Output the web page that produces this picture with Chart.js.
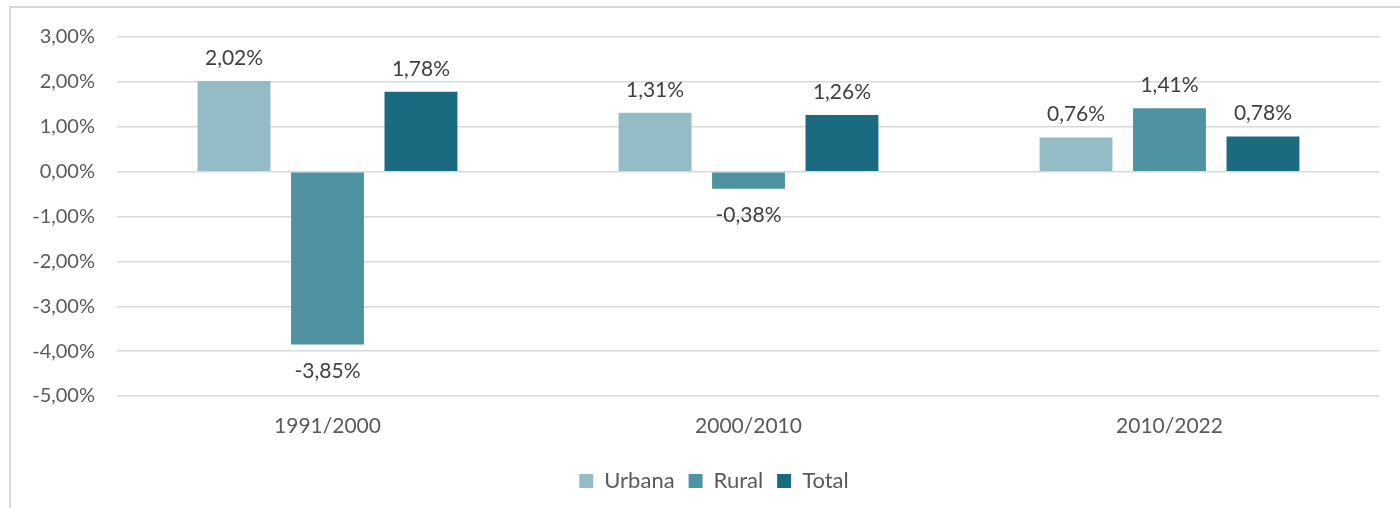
<!DOCTYPE html>
<html>
<head>
<meta charset="utf-8">
<script src="https://cdn.jsdelivr.net/npm/chart.js@4"></script>
<style>
  html, body { margin: 0; padding: 0; background: #fff; }
  #wrap { position: relative; width: 1400px; height: 508px; overflow: hidden; }
  #frame { position: absolute; left: 9px; top: 6px; width: 1420px; height: 540px; border: 2px solid #d9d9d9; box-sizing: border-box; }
  canvas { position: absolute; left: 0; top: 0; }
</style>
</head>
<body>
<div id="wrap">
  <div id="frame"></div>
  <canvas id="chart" width="1400" height="508"></canvas>
</div>
<script>
// periods on the x axis
const periods = ['1991/2000', '2000/2010', '2010/2022'];

// annual growth rate, in %
const urbana = [2.02, 1.31, 0.76];
const rural = [-3.85, -0.38, 1.41];
const total = [1.78, 1.26, 0.78];

const seriesNames = ['Urbana', 'Rural', 'Total'];
const yTicks = [3, 2, 1, 0, -1, -2, -3, -4, -5];

const COLORS = {
    urbana: '#93bcc6',
    rural: '#4f93a3',
    total: '#1a6a80',
    grid: '#d9d9d9',
    axisText: '#595959',
    labelText: '#404040'
};

const FONT = "Lato, 'Open Sans', sans-serif";
const fmt = v => v.toFixed(2).replace('.', ',') + '%';

// draws the value labels above / below each bar
const valueLabels = {
    id: 'valueLabels',
    afterDatasetsDraw(chart) {
        const ctx = chart.ctx;
        ctx.save();
        ctx.font = `21px ${FONT}`;
        ctx.fillStyle = COLORS.labelText;
        ctx.textAlign = 'center';
        ctx.textBaseline = 'middle';
        chart.data.datasets.forEach((ds, i) => {
            chart.getDatasetMeta(i).data.forEach((bar, j) => {
                const v = ds.data[j];
                const y = v >= 0 ? bar.y - 23 : bar.y + 27;
                ctx.fillText(fmt(v), bar.x, y);
            });
        });
        ctx.restore();
    }
};

// the original legend is centred over the whole frame, not the canvas
const shiftLegend = {
    id: 'shiftLegend',
    afterLayout(chart) {
        if (!chart.legend) return;
        chart.legend.left = 48;
        chart.legend.right = 1380;
    }
};

const ctx = document.getElementById('chart').getContext('2d');

new Chart(ctx, {
    type: 'bar',
    data: {
        labels: periods,
        datasets: [
            { label: seriesNames[0], data: urbana, backgroundColor: COLORS.urbana },
            { label: seriesNames[1], data: rural, backgroundColor: COLORS.rural },
            { label: seriesNames[2], data: total, backgroundColor: COLORS.total }
        ]
    },
    options: {
        responsive: false,
        animation: false,
        devicePixelRatio: 1,
        layout: { padding: { left: 0, right: 20, top: 37, bottom: 6 } },
        datasets: {
            bar: { categoryPercentage: 0.666, barPercentage: 0.78 }
        },
        scales: {
            x: {
                grid: { display: false, drawTicks: false },
                border: { display: false },
                ticks: { color: COLORS.axisText, font: { family: FONT, size: 21 }, padding: 18 },
                afterFit: s => { s.height = 60; }
            },
            y: {
                min: -5,
                max: 3,
                afterBuildTicks: s => { s.ticks = yTicks.map(v => ({ value: v })); },
                grid: { color: COLORS.grid, lineWidth: 1.5, drawTicks: false },
                border: { display: false },
                ticks: {
                    color: COLORS.axisText,
                    font: { family: FONT, size: 20 },
                    padding: 22,
                    callback: v => fmt(v)
                },
                afterFit: s => { s.width = 117; }
            }
        },
        plugins: {
            legend: {
                position: 'bottom',
                labels: {
                    color: COLORS.axisText,
                    font: { family: FONT, size: 22 },
                    boxWidth: 14,
                    boxHeight: 14,
                    padding: 14
                }
            },
            tooltip: { enabled: false }
        }
    },
    plugins: [valueLabels, shiftLegend]
});
</script>
</body>
</html>
